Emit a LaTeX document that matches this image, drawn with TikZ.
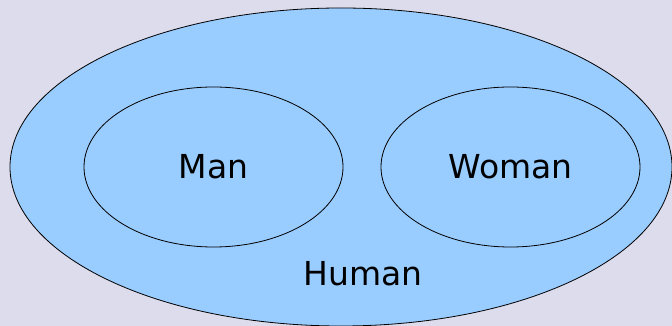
\documentclass[tikz,border=0pt]{standalone}
\usepackage{fontspec}
\setmainfont{DejaVu Sans}
\usetikzlibrary{shapes.geometric}
\definecolor{nen}{HTML}{DCDCEC}
\definecolor{xanh}{HTML}{99CCFF}
\begin{document}
\begin{tikzpicture}[x=1pt, y=1pt, line join=round, font=\fontsize{33}{38}\selectfont,
	tap/.style={ellipse, draw=black, line width=0.8pt, inner sep=0pt}]
		% ==================== NỀN ====================
		\fill[nen] (0,0) rectangle (672,326);
		\useasboundingbox (0,0) rectangle (672,326);
		% ==================== TẬP LỚN ====================
		\node[tap, fill=xanh, minimum width=662, minimum height=318] (human) at (341,159) {};
		\node (humanlabel) at (363,52) {Human};
		% ==================== HAI TẬP CON ====================
		\node[tap, minimum width=259, minimum height=160] (man) at (213.5,159) {Man};
		\node[tap, minimum width=259, minimum height=160] (woman) at (510.5,159) {Woman};
	\end{tikzpicture}
\end{document}
